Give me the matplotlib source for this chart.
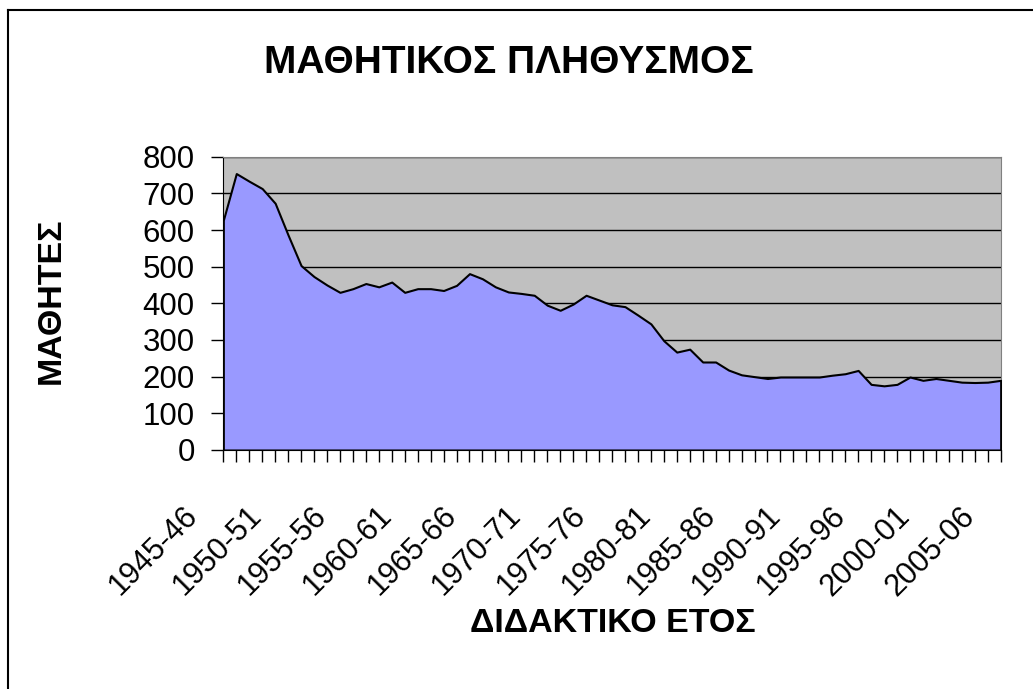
import numpy as np
import matplotlib.pyplot as plt
import matplotlib.transforms as mtransforms
from matplotlib.lines import Line2D

plt.rcParams['font.family'] = ['Liberation Sans', 'DejaVu Sans']

# school years 1945-46 ... 2005-06
years = [f"{y}-{(y + 1) % 100:02d}" for y in range(1945, 2006)]
students = [627, 754, 733, 713, 673, 586, 503, 473, 450, 430,
            440, 454, 445, 458, 430, 440, 440, 435, 449, 481,
            467, 445, 431, 427, 422, 395, 381, 398, 422, 409,
            396, 391, 368, 344, 298, 267, 275, 240, 240, 218,
            205, 200, 195, 199, 199, 199, 199, 204, 208, 217,
            179, 175, 179, 199, 190, 195, 190, 185, 184, 185, 190]
yticks = [0, 100, 200, 300, 400, 500, 600, 700, 800]

fig = plt.figure(figsize=(10.33, 6.89), dpi=100)
ax = fig.add_axes([0.2162, 0.3469, 0.7525, 0.4257])

x = np.arange(len(years))
ax.set_facecolor('#C0C0C0')
ax.fill_between(x, students, 0, facecolor='#9999FF', edgecolor='black', lw=1.5, zorder=3)

ax.set_xlim(0, len(years) - 1)
ax.set_ylim(0, 800)
ax.set_yticks(yticks)
ax.yaxis.grid(True, color='black', lw=1)
ax.set_axisbelow(True)

ax.set_xticks(x)
ax.set_xticklabels([y if i % 5 == 0 else '' for i, y in enumerate(years)],
                   rotation=45, ha='right', va='top', fontsize=22)
ax.tick_params(axis='x', direction='out', length=8.6, width=1, pad=28, colors='black')
ax.tick_params(axis='y', direction='out', length=8.6, width=1, pad=12, labelsize=22.5)
for side in ['top', 'right']:
    ax.spines[side].set_color('#808080')
ax.spines['left'].set_color('black')
ax.spines['bottom'].set_color('black')

shift = mtransforms.ScaledTranslation(-0.20, 0, fig.dpi_scale_trans)
for lab in ax.get_xticklabels():
    lab.set_transform(lab.get_transform() + shift)

ax.set_ylabel('ΜΑΘΗΤΕΣ', fontsize=24.5, fontweight='bold')
ax.yaxis.set_label_coords(-0.201, 0.508)
ax.set_xlabel('ΔΙΔΑΚΤΙΚΟ ΕΤΟΣ', fontsize=24.5, fontweight='bold')
ax.xaxis.set_label_coords(0.501, -0.54)

fig.text(509 / 1033, 1 - 72.7 / 689, 'ΜΑΘΗΤΙΚΟΣ ΠΛΗΘΥΣΜΟΣ', ha='center', va='baseline',
         fontsize=28, fontweight='bold')

# chart border
fig.add_artist(Line2D([8 / 1033, 1.0], [1 - 10 / 689] * 2, color='black', lw=1.5))
fig.add_artist(Line2D([8 / 1033] * 2, [0.0, 1 - 10 / 689], color='black', lw=1.5))

fig.savefig('out.png', dpi=100)
